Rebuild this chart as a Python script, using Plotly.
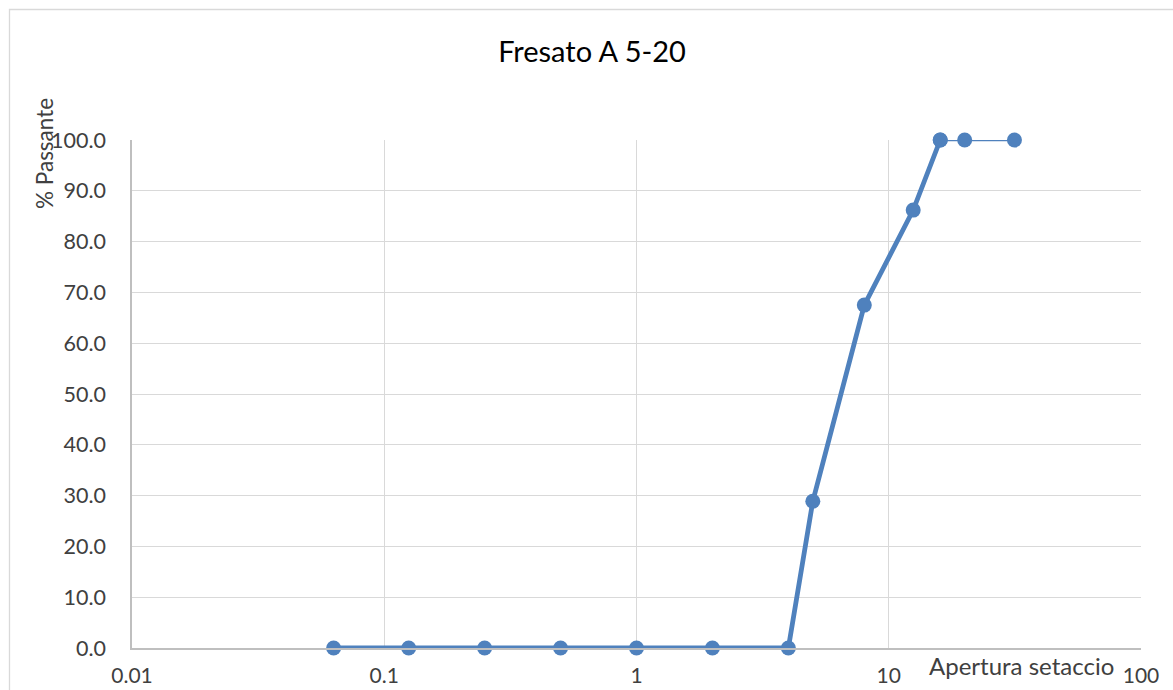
import plotly.graph_objects as go

# Sieve analysis: aperture (mm) vs percent passing
aperture = [0.063, 0.125, 0.25, 0.5, 1, 2, 4, 5, 8, 12.5, 16, 20, 31.5]
passing = [0.0, 0.0, 0.0, 0.0, 0.0, 0.0, 0.0, 28.9, 67.5, 86.2, 100.0, 100.0, 100.0]

x_ticks = [0.01, 0.1, 1, 10, 100]
x_tick_labels = ["0.01", "0.1", "1", "10", "100"]
y_ticks = [0, 10, 20, 30, 40, 50, 60, 70, 80, 90, 100]

BLUE = "#4F81BD"
FONT = "Lato"
TEXT = "#404040"

# plot area in pixels
L, R, T, B = 132, 1141, 140, 648
W, H = 1173, 690

def px_to_paper_x(px):
    return (px - L) / (R - L)

def px_to_paper_y(py):
    return (B - py) / (B - T)

fig = go.Figure()

# thick segment up to the first 100% point
split = 10
fig.add_trace(go.Scatter(
    x=aperture[:split + 1], y=passing[:split + 1],
    mode="lines+markers",
    line=dict(color=BLUE, width=4.8),
    marker=dict(color=BLUE, size=15),
    cliponaxis=False,
    showlegend=False, hoverinfo="x+y",
))
# thinner tail along the 100% plateau
fig.add_trace(go.Scatter(
    x=aperture[split:], y=passing[split:],
    mode="lines+markers",
    line=dict(color=BLUE, width=2.4),
    marker=dict(color=BLUE, size=15),
    cliponaxis=False,
    showlegend=False, hoverinfo="x+y",
))

fig.update_layout(
    width=W, height=H,
    margin=dict(l=L, r=W - R, t=T, b=H - B),
    paper_bgcolor="white",
    plot_bgcolor="white",
    font=dict(family=FONT, color=TEXT, size=21),
    title=dict(
        text="Fresato A 5-20",
        x=592 / W, xanchor="center",
        y=1 - 52 / H, yanchor="middle",
        yref="container",
        font=dict(family=FONT, size=29, color="#000000"),
    ),
    xaxis=dict(
        type="log",
        range=[-2, 2],
        tickvals=x_ticks,
        ticktext=x_tick_labels,
        showgrid=True, gridcolor="#D9D9D9", gridwidth=1.3,
        showline=True, linecolor="#BFBFBF", linewidth=1.5,
        zeroline=False, automargin=False,
        ticks="", ticklabelstandoff=8,
        tickfont=dict(family=FONT, size=21, color=TEXT),
    ),
    yaxis=dict(
        range=[0, 100],
        tickvals=y_ticks,
        tickformat=".1f",
        showgrid=True, gridcolor="#D9D9D9", gridwidth=1.3,
        showline=True, linecolor="#BFBFBF", linewidth=1.5,
        zeroline=False, automargin=False,
        ticks="", ticklabelstandoff=20,
        tickfont=dict(family=FONT, size=21.5, color=TEXT),
    ),
    shapes=[
        # chart frame
        dict(type="rect", xref="paper", yref="paper",
             x0=px_to_paper_x(9.5), x1=px_to_paper_x(1200),
             y0=px_to_paper_y(720), y1=px_to_paper_y(9.5),
             line=dict(color="#D9D9D9", width=1.3), layer="below"),
    ],
    annotations=[
        dict(text="% Passante", textangle=-90,
             x=px_to_paper_x(45), y=px_to_paper_y(154),
             xref="paper", yref="paper",
             xanchor="center", yanchor="middle", showarrow=False,
             font=dict(family=FONT, size=22.5, color=TEXT)),
        dict(text="Apertura setaccio",
             x=px_to_paper_x(1021), y=px_to_paper_y(665),
             xref="paper", yref="paper",
             xanchor="center", yanchor="middle", showarrow=False,
             font=dict(family=FONT, size=24, color=TEXT)),
    ],
)

fig.write_html("out.html")
